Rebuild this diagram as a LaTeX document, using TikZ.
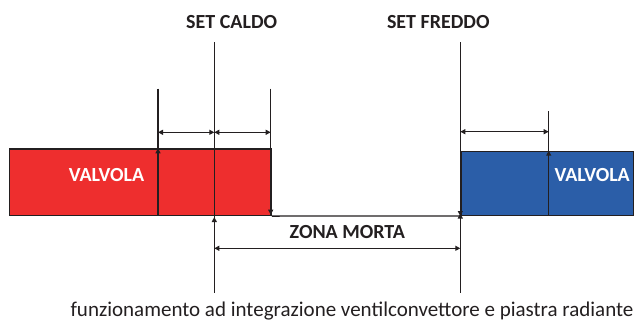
\documentclass[tikz,border=0pt]{standalone}
\usepackage{fontspec}
\setmainfont{Carlito}
\usetikzlibrary{arrows.meta}
\definecolor{valred}{HTML}{EE2E2E}
\definecolor{valblue}{HTML}{2B5EA8}
\definecolor{ink}{HTML}{231F20}
\tikzset{
  valve/.style={draw=ink, line width=1.3pt, inner sep=0pt, anchor=north west},
  vline/.style={draw=ink, line width=1.3pt},
  dim/.style={draw=ink, line width=1.1pt, {Triangle[width=5pt,length=5pt]}-{Triangle[width=5pt,length=5pt]}},
  tipup/.style={draw=ink, line width=1.1pt, -{Triangle[width=5pt,length=5pt]}},
  lbl/.style={font=\fontsize{20}{20}\selectfont\bfseries, text=ink, inner sep=0pt},
  vlbl/.style={font=\fontsize{20}{20}\selectfont\bfseries, text=white, inner sep=0pt},
  captext/.style={font=\fontsize{21}{21}\selectfont, text=ink, inner sep=0pt}
}
\begin{document}
\begin{tikzpicture}[x=1pt,y=-1pt]
\useasboundingbox (0,0) rectangle (641,322);
% rectangles
\node[valve, fill=valred, minimum width=261.5pt, minimum height=66.5pt] (red) at (9,148.3) {};
\node[valve, fill=valblue, minimum width=172.5pt, minimum height=64pt] (blue) at (460.3,150.7) {};
% baseline between the rectangles
\draw[vline] (red.south east) -- (blue.south west);
% coordinates
\coordinate (caldoT) at (214.3,42);
\coordinate (caldoB) at (214.3,292.7);
\coordinate (freddoT) at (460.3,42);
\coordinate (freddoB) at (460.3,292.7);
\coordinate (lT) at (158,88.7);
\coordinate (lB) at (158,214.7);
\coordinate (lM) at (158,148.3);
\coordinate (rT) at (270.7,88.7);
\coordinate (rB) at (270.7,214.7);
\coordinate (bT) at (548.7,111);
\coordinate (bB) at (548.7,214.7);
\coordinate (bM) at (548.7,150.7);
% vertical lines
\draw[vline] (caldoT) -- (caldoB);
\draw[vline] (freddoT) -- (freddoB);
\draw[vline] (lT) -- (lB);
\draw[vline] (rT) -- (rB);
\draw[vline] (bT) -- (bB);
% arrow tips on the vertical lines
\draw[tipup] (158,160) -- (lM);
\draw[tipup] (548.7,162) -- (bM);
\draw[tipup] (270.7,200) -- (rB);
\draw[tipup] (214.3,232) -- (214.3,217);
\draw[tipup] (460.3,230) -- (460.3,213.5);
\draw[tipup] (460.3,200) -- (460.3,216);
% dimension arrows
\draw[dim] (158,132.3) -- (214.3,132.3);
\draw[dim] (214.3,132.3) -- (270.7,132.3);
\draw[dim] (460.3,131.7) -- (548.7,131.7);
\draw[dim] (214.3,248.3) -- (460.3,248.3);
% labels
\node[lbl] (setcaldo) at (231.7,21.7) {SET CALDO};
\node[lbl] (setfreddo) at (438.3,21.7) {SET FREDDO};
\node[lbl] (zona) at (347.3,232.3) {ZONA MORTA};
\node[vlbl] (v1) at (106.5,175) {VALVOLA};
\node[vlbl] (v2) at (592.2,175) {VALVOLA};
\node[captext] (caption) at (352,311) {funzionamento ad integrazione ventilconvettore e piastra radiante};
\end{tikzpicture}
\end{document}
